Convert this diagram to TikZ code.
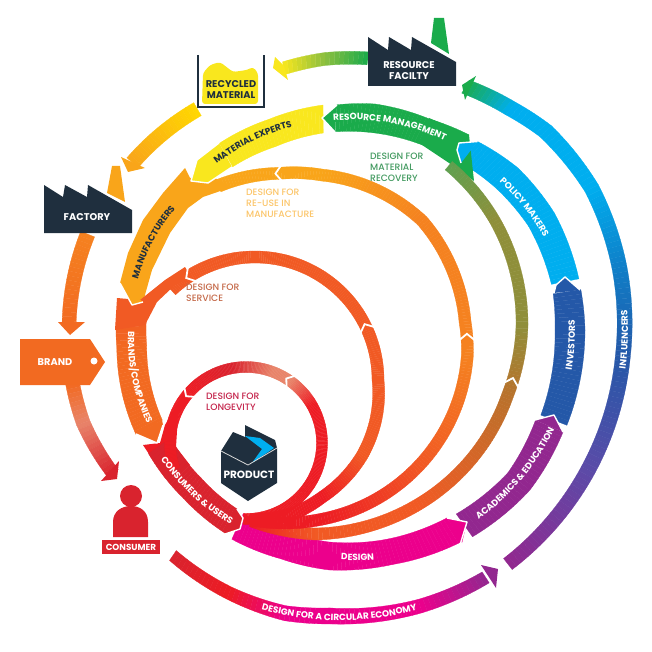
\documentclass[tikz,border=0pt]{standalone}
\usepackage{fontspec}
\setmainfont{Poppins}
\newfontfamily\notefont{Poppins}[UprightFont=* Medium]
\usetikzlibrary{decorations.text}

\definecolor{cGreen}{HTML}{1AAB4B}
\definecolor{cMoss}{HTML}{5FA050}
\definecolor{cOlive}{HTML}{8F8F3A}
\definecolor{cBronze}{HTML}{B9722C}
\definecolor{cLime}{HTML}{8CBF3F}
\definecolor{cLemon}{HTML}{F9E71E}
\definecolor{cYellow}{HTML}{FFD800}
\definecolor{cAmber}{HTML}{F9A51A}
\definecolor{cOrange}{HTML}{F58220}
\definecolor{cBrand}{HTML}{F26A21}
\definecolor{cEmber}{HTML}{F15A24}
\definecolor{cSalmon}{HTML}{E8846A}
\definecolor{cRed}{HTML}{ED1C24}
\definecolor{cDeep}{HTML}{D9232E}
\definecolor{cMagenta}{HTML}{EC008C}
\definecolor{cPurple}{HTML}{92278F}
\definecolor{cViolet}{HTML}{5B4BA8}
\definecolor{cBlue}{HTML}{2458A8}
\definecolor{cSky}{HTML}{0F7FC8}
\definecolor{cCyan}{HTML}{00AEEF}
\definecolor{cNavy}{HTML}{1F2F3E}

\tikzset{
  gapline/.style={white,line width=1.8pt,line join=miter},
  frontline/.style={white,line width=1.4pt,line join=round},
  tagtext/.style={white,font=\bfseries\fontsize{9.8}{11}\selectfont,align=center,inner sep=0pt},
  notetext/.style={font=\notefont\fontsize{9.2}{11}\selectfont,align=left,anchor=west,inner sep=0pt}
}

% stops are angle/radius/width/colour
\newcommand{\ringband}[3]{
  \foreach \ang/\rr/\wid/\col [count=\n, remember=\ang as \pang, remember=\rr as \prr,
      remember=\wid as \pwid, remember=\col as \pcol] in {#3} {
    \ifnum\n>1
      \pgfmathtruncatemacro\nn{max(2,abs(\ang-\pang))}
      \foreach \i in {1,...,\nn} {
        \pgfmathsetmacro\fA{(\i-1)/\nn}
        \pgfmathsetmacro\fB{\i/\nn}
        \pgfmathsetmacro\angA{\pang+(\ang-\pang)*\fA}
        \pgfmathsetmacro\angB{\pang+(\ang-\pang)*\fB}
        \pgfmathsetmacro\outA{\prr+(\rr-\prr)*\fA+(\pwid+(\wid-\pwid)*\fA)/2}
        \pgfmathsetmacro\outB{\prr+(\rr-\prr)*\fB+(\pwid+(\wid-\pwid)*\fB)/2}
        \pgfmathsetmacro\inA{\prr+(\rr-\prr)*\fA-(\pwid+(\wid-\pwid)*\fA)/2}
        \pgfmathsetmacro\inB{\prr+(\rr-\prr)*\fB-(\pwid+(\wid-\pwid)*\fB)/2}
        \pgfmathtruncatemacro\mixp{100*(\i-.5)/\nn}
        \colorlet{slicecol}{\col!\mixp!\pcol}
        \filldraw[fill=slicecol,draw=slicecol,line width=.25pt]
          ({#1+\outA*cos(\angA)},{#2-\outA*sin(\angA)}) --
          ({#1+\outB*cos(\angB)},{#2-\outB*sin(\angB)}) --
          ({#1+\inB*cos(\angB)},{#2-\inB*sin(\angB)}) --
          ({#1+\inA*cos(\angA)},{#2-\inA*sin(\angA)}) -- cycle;
      }
    \fi
  }
}
\newcommand{\ringgap}[6]{
  \draw[gapline]
    ({#1+(#4+#5/2+1.5)*cos(#3)},{#2-(#4+#5/2+1.5)*sin(#3)}) --
    ({#1+#4*cos(#3+#6)},{#2-#4*sin(#3+#6)}) --
    ({#1+(#4-#5/2-1.5)*cos(#3)},{#2-(#4-#5/2-1.5)*sin(#3)});
}
\newcommand{\arclabel}[8]{
  \path[postaction={decorate,decoration={text along path,text align=center,
      text={|\bfseries\fontsize{9}{10}\selectfont\color{#7}|#8}}}]
    plot[domain=-.3:1.3,samples=49,variable=\t]
      ({#1+(#4+(#6-#4)*\t)*cos(#3+(#5-#3)*\t)},{#2-(#4+(#6-#4)*\t)*sin(#3+(#5-#3)*\t)});
}

\begin{document}
\begin{tikzpicture}[x=1pt,y=-1pt]
\useasboundingbox (0,0) rectangle (652,652);

% outer loop
\ringband{325}{330}{-52/297/14/cPurple, -28/298/15/cViolet, -5/299/15/cBlue, 12/301/15/cSky, 28/302/15/cCyan,
  42/297/16/cCyan, 50/289/16/cCyan, 60/281/15/cGreen}
\fill[cGreen] (476,76) -- (462,85) -- (465,100) -- cycle;
\ringband{325}{330}{81/275/13/cGreen, 90/271/13/cLime, 99/265/13/cLemon}
\fill[cLemon] (275,57) -- (273,68) -- (288,80) -- (284,66) -- cycle;
\ringband{325}{330}{120/255/15/cYellow, 139/255/15/cAmber}
\fill[cAmber] (121,157) -- (128,172) -- (145,168) -- cycle;
\ringband{325}{330}{158/256/15/cOrange, 179/256/14/cBrand}
\fill[cBrand] (58,322) -- (70,335) -- (85,322) -- cycle;
\ringband{325}{330}{192/258/14/cBrand, 201/259/14/cSalmon, 214/256/13/cDeep}
\fill[cDeep] (119,461) -- (117,479) -- (101,481) -- cycle;
\ringband{325}{330}{236/272/12/cDeep, 250/280/13/cRed, 262/286/15/cMagenta, 271/286/16/cMagenta, 289/292/14/cMagenta, 303/295/13/cPurple}
\fill[cPurple] (481,565) -- (498,569) -- (496,588) -- cycle;

% stakeholder ring
\ringband{325}{330}{-114/215/28/cMagenta, -101/219/28/cMagenta, -89/226/28/cMagenta, -74/231/26/cMagenta, -57/238/28/cMagenta}
\ringband{325}{330}{-54.5/240/28/cPurple, -38/246/28/cPurple, -23.2/244/30/cPurple}
\ringband{325}{330}{-21.5/246/28/cBlue, 0/245/30/cBlue, 9/245/28/cBlue}
\ringband{325}{330}{11.4/245/28/cCyan, 27/243/29/cCyan, 40/237/30/cCyan, 51/229/27/cCyan}
\ringband{325}{330}{53.6/228/29/cGreen, 63.5/222/27/cGreen, 77.5/217/29/cGreen, 87/212/27/cGreen}
\ringband{325}{330}{90.5/211/28/cLemon, 105/204/28/cLemon, 119.5/201/27/cLemon}
\fill[cGreen] (419,143) -- (449,163) -- (474,181) -- (469,135) -- (429,118) -- cycle;
\fill[cAmber] (185,168) -- (163,193) -- (143,220) -- (128,253) -- (120,283) -- (132,305) -- (143,302)
  -- (152,270) -- (170,233) -- (188,208) -- (203,197) -- (232,187) -- (215,178) -- (190,178) -- cycle;
\ringband{325}{330}{175/194/30/cEmber, 185/194/30/cBrand, 209/201/30/cBrand}
\fill[cEmber] (117,298) -- (115,330) -- (145,325) -- (157,302) -- (175,285) -- (192,278) -- (185,267)
  -- (165,280) -- (140,300) -- cycle;
\fill[cRed] (183,394) -- (190,398) -- (178,415) -- (176,447) -- (190,465) -- (165,478) -- (143,445)
  -- (160,443) -- (165,425) -- cycle;
\ringband{325}{330}{215/202/27/cDeep, 230/206.5/27/cDeep, 244/213/27/cDeep}

% design loops
\ringband{315}{325}{-108/206/12/cRed, -90/209/12/cEmber, -60/207/12/cEmber, -20/205/12/cBronze, 0/207/12/cOlive,
  30/208/11/cOlive, 50/208/11/cMoss}
\ringgap{315}{325}{-17}{205}{12}{2}
\ringband{290}{340}{-102/184/12/cRed, -80/182/12/cRed, -43/180/12/cEmber, -5/178/12/cOrange, 6/176/12/cOrange,
  26/177/12/cOrange, 42/178/12/cOrange, 79/168/12/cAmber, 94/167/12/cAmber, 115/170/13/cAmber}
\ringgap{290}{340}{0}{177}{12}{2}
\ringgap{290}{340}{93}{167}{12}{2}
\ringband{255}{380}{-92/140/13/cRed, -74/139/13/cRed, -60/135/12/cRed, -35/131/12/cEmber, 0/123/12/cEmber, 24/123/12/cEmber,
  90/123/12/cEmber, 133/123/13/cEmber}
\ringgap{255}{380}{24}{123}{12}{3}
\ringgap{255}{380}{121}{123}{12}{3}
\ringband{246}{443}{-92/76/11/cRed, 0/76/11/cRed, 30/76/11/cRed, 54/76/11/cSalmon, 70/76/11/cSalmon, 100/76/11/cDeep, 138/76/11/cRed, 200/76/11/cRed}
\ringgap{246}{443}{54}{76}{11}{4}
\ringgap{246}{443}{138}{76}{11}{4}

% blunt fronts
\fill[cMagenta] (447,518) -- (467,522) -- (462,543) -- cycle;
\draw[frontline] (447,518) -- (467,522) -- (460,545);
\fill[cPurple] (535,420) -- (554,415) -- (563,432) -- cycle;
\draw[frontline] (535,420) -- (554,415) -- (563,432);
\fill[cBlue] (554,293) -- (556,285) -- (565,277) -- (580,290) -- cycle;
\draw[frontline] (554,293) -- (556,285) -- (565,277) -- (580,290);
\fill[cCyan] (477.6,141.5) -- (459,143) -- (457,150) -- (461,163) -- cycle;
\draw[frontline] (477.6,141.5) -- (459,143) -- (457,150) -- (461,163);
\fill[cGreen] (337,105) -- (322,118) -- (335,132) -- cycle;
\draw[frontline] (337,105) -- (322,118) -- (335,132);
\fill[cLemon] (219,143) -- (197,160) -- (191,181) -- (208,183) -- (232,167) -- cycle;
\draw[frontline] (219,143) -- (197,160) -- (191,181) -- (208,183) -- (232,167);
\fill[cAmber] (120,283) -- (132,305) -- (143,302) -- cycle;
\draw[frontline] (120,283) -- (132,305) -- (143,302);
\fill[cBrand] (136,434) -- (157,443) -- (163,425) -- (162,420) -- cycle;
\draw[frontline] (136,434) -- (157,443) -- (163,425);
\fill[cDeep] (225,534) -- (240,529) -- (243,518) -- (237,509) -- cycle;
\draw[frontline] (225,534) -- (240,529) -- (243,518) -- (237,509);

% stations
\fill[cAmber] (112,166) -- (120,166) -- (125,202) -- (107,193) -- cycle;
\fill[cNavy] (44,185) -- (63,197) -- (65,185) -- (87,197) -- (88,185) -- (132,210) -- (132,233) -- (44,233) -- cycle;
\node[tagtext] (factorytag) at (87,217) {FACTORY};
\fill[cGreen] (434,18) -- (444,18) -- (449,54) -- (431,43) -- cycle;
\fill[cNavy] (368,37) -- (388,50) -- (389,37) -- (411,50) -- (412,37) -- (456,62) -- (456,86) -- (368,86) -- cycle;
\node[tagtext] (resourcetag) at (409,70.5) {RESOURCE\\FACILTY};
\fill[cLemon,rounded corners=3pt] (202,104) -- (203,73) -- (210,65) -- (220,62) -- (233,72) -- (247,70) -- (253,67) -- (258,73) -- (258,104) -- cycle;
\draw[cNavy,line width=1.6pt] (198,55) -- (198,107) -- (264,107) -- (264,55);
\node[tagtext,cNavy] (recycledtag) at (231,89.5) {RECYCLED\\MATERIAL};
\fill[cBrand] (20,339) -- (90,339) -- (105,362) -- (90,385) -- (20,385) -- cycle;
\fill[white] (94,361) circle [radius=3.5];
\node[tagtext] (brandtag) at (55,362) {BRAND};
\fill[cDeep] (131,496) circle [radius=11];
\fill[cDeep] (113,537) -- (113,522) .. controls (113,511) and (122,506) .. (131,506) .. controls (140,506) and (148,511) .. (148,522) -- (148,537) -- cycle;
\fill[cDeep] (102,540) rectangle (160,554);
\node[tagtext,font=\bfseries\fontsize{8.8}{10}\selectfont] (consumertag) at (131,547.5) {CONSUMER};

% product box
\fill[cNavy] (245,425) -- (275,440) -- (277,448) -- (277,483) -- (248,501) -- (221,483) -- (221,451) -- (233,432) -- (245,437) -- cycle;
\fill[cCyan] (245,436) -- (260,438) -- (274,448) -- (252,463) -- (262,449) -- cycle;
\draw[white!85!black,line width=.8pt] (221,451) -- (248,465) -- (277,448);
\node[tagtext,font=\bfseries\fontsize{10.5}{12}\selectfont] (producttag) at (249,475) {PRODUCT};

% notes
\node[notetext,text=cGreen!60!gray] (noterecovery) at (370,167.5) {DESIGN FOR\\MATERIAL\\RECOVERY};
\node[notetext,text=cAmber!65!white] (notereuse) at (246,203) {DESIGN FOR\\RE-USE IN\\MANUFACTURE};
\node[notetext,text=cEmber!60!gray] (noteservice) at (186,292.5) {DESIGN FOR\\SERVICE};
\node[notetext,text=cDeep!70!cPurple] (notelongevity) at (206,401.5) {DESIGN FOR\\LONGEVITY};

% band labels
\arclabel{325}{330}{88.6}{209}{57.6}{224}{white}{RESOURCE MANAGEMENT}
\arclabel{325}{330}{123.9}{198}{98.8}{206}{cNavy}{MATERIAL EXPERTS}
\arclabel{325}{330}{41}{229}{22.7}{238}{white}{POLICY MAKERS}
\arclabel{325}{330}{-9.3}{250}{2.3}{250}{white}{INVESTORS}
\arclabel{325}{330}{-8}{303}{4.4}{303}{white}{INFLUENCERS}
\arclabel{325}{330}{-51}{244}{-23.6}{250}{white}{ACADEMICS {\&} EDUCATION}
\arclabel{325}{330}{-86}{230.5}{-78}{235}{white}{DESIGN}
\arclabel{325}{330}{218}{209}{244}{216}{white}{CONSUMERS {\&} USERS}
\arclabel{325}{330}{181}{197}{207}{201}{white}{BRANDS/COMPANIES}
\arclabel{325}{330}{164.7}{194}{141}{192.5}{cNavy}{MANUFACTURERS}
\arclabel{325}{330}{256}{286.5}{289}{295}{white}{DESIGN FOR A CIRCULAR ECONOMY}
\end{tikzpicture}
\end{document}
